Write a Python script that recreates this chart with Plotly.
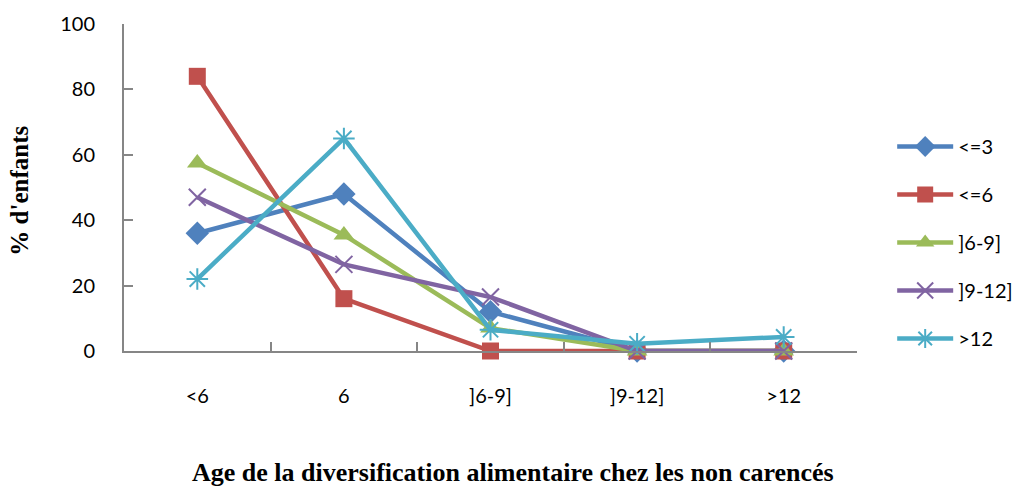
import plotly.graph_objects as go

categories = ["<6", "6", "]6-9]", "]9-12]", ">12"]
series_names = ["<=3", "<=6", "]6-9]", "]9-12]", ">12"]
v_le3 = [36, 48, 12, 0, 0]
v_le6 = [84, 16, 0, 0, 0]
v_6_9 = [57.5, 35.5, 7, 0, 0]
v_9_12 = [47, 26.5, 16.5, 0, 0]
v_gt12 = [22, 65, 6.5, 2.2, 4.3]
y_ticks = [0, 20, 40, 60, 80, 100]

values = [v_le3, v_le6, v_6_9, v_9_12, v_gt12]
colors = ["#4F81BD", "#C0504D", "#9BBB59", "#8064A2", "#4BACC6"]
symbols = ["diamond", "square", "triangle-up", "x-thin-open", "asterisk-open"]
sizes = [18, 17, 18, 17, 18]

fig = go.Figure()
for i, (name, vals) in enumerate(zip(series_names, values)):
    marker = dict(symbol=symbols[i], size=sizes[i], color=colors[i])
    if "open" in symbols[i]:
        marker["line"] = dict(width=2, color=colors[i])
    fig.add_trace(go.Scatter(
        x=categories, y=vals, name=name, mode="lines+markers",
        line=dict(color=colors[i], width=4.5),
        marker=marker, legendgroup=name, cliponaxis=False,
    ))

axis_col = "#868686"
tick_font = dict(family="Lato, Open Sans, sans-serif", size=20, color="black")
fig.update_layout(
    width=1021, height=486,
    margin=dict(l=124, r=164, t=24, b=135, autoexpand=False),
    paper_bgcolor="white", plot_bgcolor="white",
    font=dict(family="Lato, Open Sans, sans-serif", size=20, color="black"),
    showlegend=True,
    legend=dict(x=1.048, y=0.685, xref="paper", yref="paper", xanchor="left", yanchor="top",
                tracegroupgap=19, traceorder="grouped",
                font=dict(family="Lato, Open Sans, sans-serif", size=20), itemwidth=56),
    xaxis=dict(type="category", range=[-0.5, 4.5], showline=True, linecolor=axis_col,
               linewidth=2, ticks="inside", ticklen=9, tickcolor=axis_col,
               tickwidth=2, tickson="boundaries", showgrid=False, tickfont=tick_font,
               ticklabelstandoff=26, zeroline=False),
    yaxis=dict(range=[0, 100], tickvals=y_ticks, showline=True, linecolor=axis_col,
               linewidth=2, ticks="inside", ticklen=9, tickcolor=axis_col, tickfont=tick_font,
               tickwidth=2, showgrid=False, zeroline=False, ticklabelstandoff=23),
    annotations=[
        dict(text="<b>Age de la diversification alimentaire chez les non carencés</b>",
             xref="paper", yref="paper", x=0.531, y=-0.373, xanchor="center", yanchor="middle",
             showarrow=False, font=dict(family="Liberation Serif", size=26)),
        dict(text="<b>% d'enfants</b>", textangle=-90,
             xref="paper", yref="paper", x=-0.142, y=0.49, xanchor="center", yanchor="middle",
             showarrow=False, font=dict(family="Liberation Serif", size=25)),
    ],
)

fig.write_html("out.html")
